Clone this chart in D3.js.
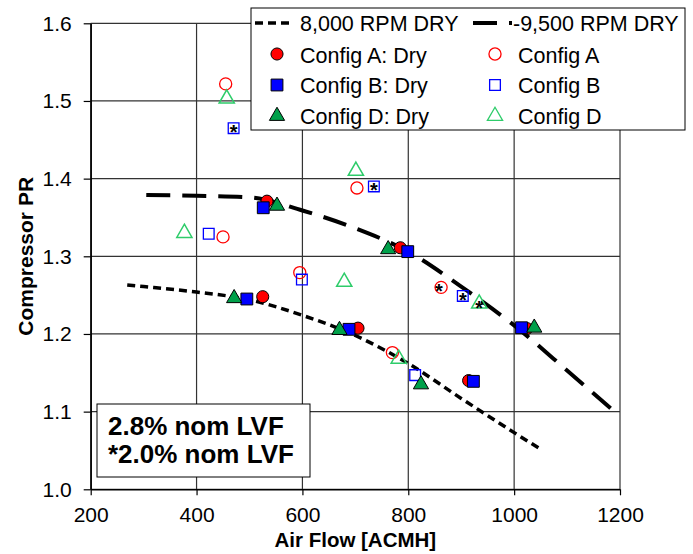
<!DOCTYPE html>
<html>
<head>
<meta charset="utf-8">
<script src="https://cdn.jsdelivr.net/npm/d3@7"></script>
<style>
  body { margin: 0; background: #fff; }
  svg text { font-family: "Liberation Sans", Arial, sans-serif; fill: #000; }
</style>
</head>
<body>
<div id="chart"></div>
<script>
// speed lines
var rpm8000 = [[269,1.263],[300,1.261],[400,1.254],[500,1.244],[600,1.224],[700,1.198],[800,1.162],[900,1.117],[1000,1.073],[1049,1.052]];
var rpm9500 = [[305,1.379],[400,1.378],[500,1.376],[600,1.359],[700,1.336],[800,1.306],[900,1.261],[1000,1.211],[1100,1.153],[1186,1.102]];

// dry points
var configA_dry = [[533,1.371],[525,1.248],[705,1.2075],[785,1.311],[914,1.140],[1024,1.207]];
var configB_dry = [[526,1.3625],[495,1.245],[688,1.206],[799,1.306],[923,1.139],[1014,1.208]];
var configD_dry = [[552,1.365],[471,1.246],[670,1.205],[762,1.309],[824,1.135],[1038,1.208]];

// open points
var configA = [[455,1.522],[450,1.325],[595,1.279],[703,1.388],[770,1.176],[862,1.260]];
var configB = [[470,1.465],[423,1.329],[599,1.270],[735,1.390],[813,1.147],[903,1.249]];
var configD = [[457,1.503],[377,1.330],[679,1.267],[701,1.410],[782,1.168],[934,1.239]];

// points run at 2.0% LVF
var starPts = [[470,1.465],[735,1.390],[858,1.261],[903,1.249],[934,1.239]];

var xTicks = [200,400,600,800,1000,1200];
var yTicks = [1.0,1.1,1.2,1.3,1.4,1.5,1.6];

var W = 693, H = 554;
var pLeft = 90.7, pRight = 620, pTop = 23.3, pBottom = 489.3;

var RED = "#ff0000", BLUE = "#0000ff", GREEN = "#00a04a", LGREEN = "#2ecc6a";

var svg = d3.select("#chart").append("svg").attr("width", W).attr("height", H);

var x = d3.scaleLinear().domain([200,1200]).range([pLeft, pRight]);
var y = d3.scaleLinear().domain([1.0,1.6]).range([pBottom, pTop]);

// grid
svg.append("g").selectAll("line").data(yTicks).enter().append("line")
  .attr("x1", pLeft).attr("x2", pRight)
  .attr("y1", d => y(d)).attr("y2", d => y(d))
  .attr("stroke", "#333").attr("stroke-width", 1.2);
svg.append("g").selectAll("line").data(xTicks).enter().append("line")
  .attr("y1", pTop).attr("y2", pBottom)
  .attr("x1", d => x(d)).attr("x2", d => x(d))
  .attr("stroke", "#333").attr("stroke-width", 1.2);

// axes
var xAxis = svg.append("g").attr("transform", "translate(0," + pBottom + ")")
  .call(d3.axisBottom(x).tickValues(xTicks).tickFormat(d3.format("d")).tickSizeInner(6).tickSizeOuter(0).tickPadding(12));
var yAxis = svg.append("g").attr("transform", "translate(" + pLeft + ",0)")
  .call(d3.axisLeft(y).tickValues(yTicks).tickFormat(d3.format(".1f")).tickSizeInner(7).tickSizeOuter(0).tickPadding(12));
[xAxis, yAxis].forEach(function(a) {
  a.selectAll("text").style("font-size", "21px").style("font-family", "Liberation Sans, Arial, sans-serif");
  a.select(".domain").attr("stroke", "#000").attr("stroke-width", 1.5);
  a.selectAll(".tick line").attr("stroke", "#000").attr("stroke-width", 1.2);
});

svg.append("text").attr("x", (pLeft + pRight) / 2).attr("y", 547)
  .attr("text-anchor", "middle").style("font-size", "20.5px").style("font-weight", "bold")
  .text("Air Flow [ACMH]");
svg.append("text").attr("transform", "translate(33," + ((pTop + pBottom) / 2) + ") rotate(-90)")
  .attr("text-anchor", "middle").style("font-size", "21px").style("font-weight", "bold")
  .text("Compressor PR");

// speed lines
var line = d3.line().x(d => x(d[0])).y(d => y(d[1])).curve(d3.curveMonotoneX);
svg.append("path").datum(rpm8000).attr("d", line).attr("fill", "none")
  .attr("stroke", "#000").attr("stroke-width", 3.5).attr("stroke-dasharray", "8,5");
svg.append("path").datum(rpm9500).attr("d", line).attr("fill", "none")
  .attr("stroke", "#000").attr("stroke-width", 4).attr("stroke-dasharray", "24,12");

// markers
var circ = d3.symbol().type(d3.symbolCircle).size(115);
var sq = d3.symbol().type(d3.symbolSquare).size(140);
var osq = d3.symbol().type(d3.symbolSquare).size(115);
var tri = d3.symbol().type(d3.symbolTriangle).size(100);

function drawPts(data, sym, fill, stroke, sw) {
  svg.append("g").selectAll("path").data(data).enter().append("path")
    .attr("d", sym)
    .attr("transform", d => "translate(" + x(d[0]) + "," + y(d[1]) + ")")
    .attr("fill", fill).attr("stroke", stroke).attr("stroke-width", sw);
}

drawPts(configA, circ, "none", RED, 1.3);
drawPts(configB, osq, "none", BLUE, 1.3);
drawPts(configD, tri, "none", LGREEN, 1.5);
drawPts(configA_dry, circ, RED, "#000", 1);
drawPts(configB_dry, sq, BLUE, "#000", 1);
drawPts(configD_dry, tri, GREEN, "#000", 1);

svg.append("g").selectAll("text").data(starPts).enter().append("text")
  .attr("x", d => x(d[0])).attr("y", d => y(d[1]) + 11)
  .attr("text-anchor", "middle").style("font-size", "20px").style("font-weight", "bold")
  .text("*");

// text box
svg.append("rect").attr("x", 97).attr("y", 404).attr("width", 213).attr("height", 73)
  .attr("fill", "#fff").attr("stroke", "#000").attr("stroke-width", 1);
svg.append("text").attr("x", 108).attr("y", 435).style("font-size", "26px").style("font-weight", "bold")
  .text("2.8% nom LVF");
svg.append("text").attr("x", 108).attr("y", 463).style("font-size", "26px").style("font-weight", "bold")
  .text("*2.0% nom LVF");

// legend
var lg = svg.append("g");
lg.append("rect").attr("x", 251).attr("y", 8).attr("width", 434).attr("height", 122)
  .attr("fill", "#fff").attr("stroke", "#000").attr("stroke-width", 1);
lg.append("line").attr("x1", 255).attr("x2", 293).attr("y1", 23).attr("y2", 23)
  .attr("stroke", "#000").attr("stroke-width", 3.5).attr("stroke-dasharray", "8,5");
lg.append("line").attr("x1", 473).attr("x2", 512).attr("y1", 23).attr("y2", 23)
  .attr("stroke", "#000").attr("stroke-width", 4).attr("stroke-dasharray", "24,12");

var legItems = [
  {t: "8,000 RPM DRY", x: 300, y: 31},
  {t: "-9,500 RPM DRY", x: 513, y: 31},
  {t: "Config A: Dry", x: 300, y: 63, sym: circ, fill: RED, stroke: "#000", sx: 277, sy: 54},
  {t: "Config A", x: 518, y: 63, sym: circ, fill: "none", stroke: RED, sx: 495, sy: 54},
  {t: "Config B: Dry", x: 300, y: 93, sym: sq, fill: BLUE, stroke: "#000", sx: 277, sy: 85},
  {t: "Config B", x: 518, y: 93, sym: osq, fill: "none", stroke: BLUE, sx: 495, sy: 85},
  {t: "Config D: Dry", x: 300, y: 124, sym: tri, fill: GREEN, stroke: "#000", sx: 277, sy: 116},
  {t: "Config D", x: 518, y: 124, sym: tri, fill: "none", stroke: LGREEN, sx: 495, sy: 116}
];
legItems.forEach(function(d) {
  lg.append("text").attr("x", d.x).attr("y", d.y).style("font-size", "21.5px").text(d.t);
  if (d.sym) {
    lg.append("path").attr("d", d.sym).attr("transform", "translate(" + d.sx + "," + d.sy + ")")
      .attr("fill", d.fill).attr("stroke", d.stroke).attr("stroke-width", d.fill == "none" ? 1.3 : 1);
  }
});
</script>
</body>
</html>
